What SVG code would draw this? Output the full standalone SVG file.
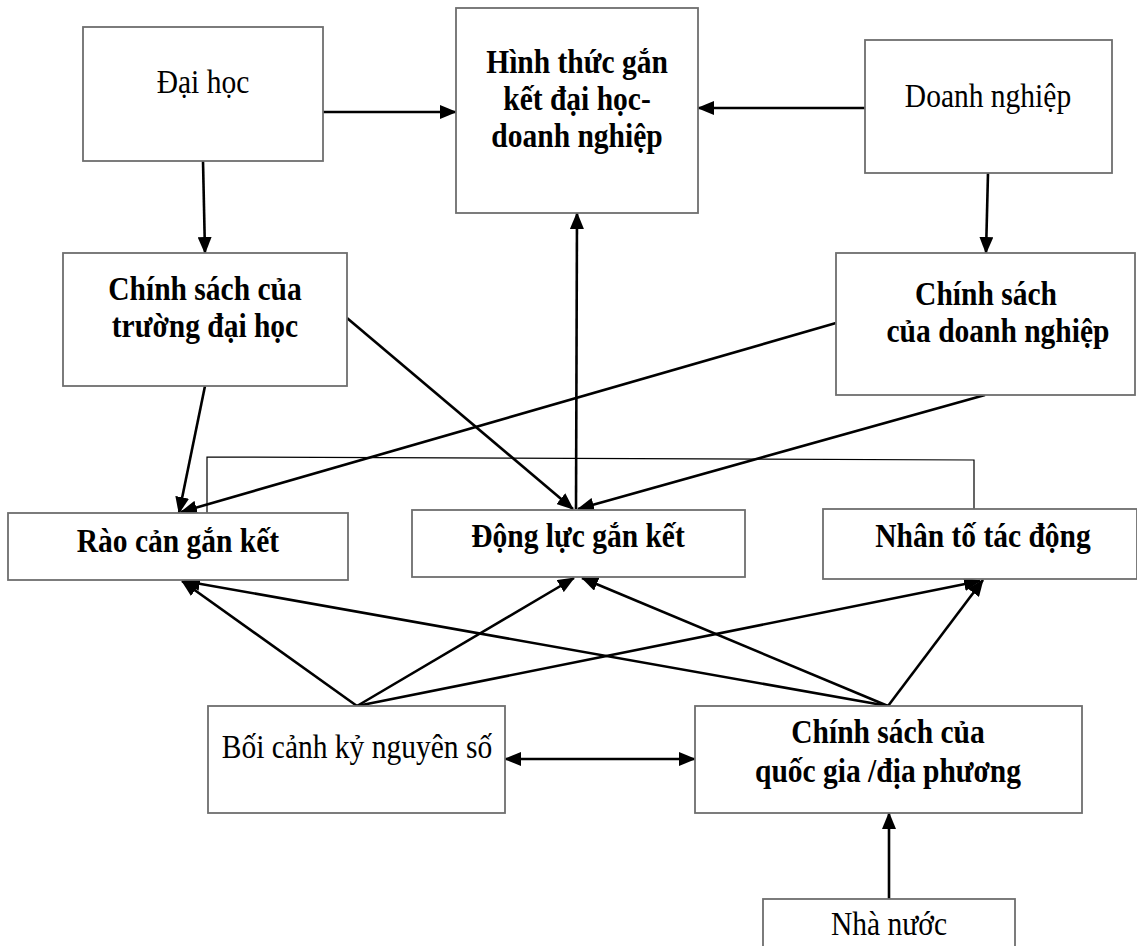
<svg xmlns="http://www.w3.org/2000/svg" width="1137" height="946" viewBox="0 0 1137 946">
<defs>
<style>
.box{fill:#fff;stroke:#6e6e6e;stroke-width:1.8}
.t{font-family:"Liberation Serif","Times New Roman",serif;font-size:29.5px;fill:#000;text-anchor:middle}
.b{font-weight:bold}
.c{stroke:#000;stroke-width:2.6;fill:none}
.thin{stroke:#000;stroke-width:1.2;fill:none}
</style>
<marker id="ah" markerUnits="userSpaceOnUse" markerWidth="18" markerHeight="14" refX="16" refY="7" orient="auto-start-reverse">
<path d="M0,0 L17,7 L0,14 z" fill="#000"/>
</marker>
</defs>
<rect width="1137" height="946" fill="#fff"/>

<g id="connectors">
<line class="c" x1="323" y1="112" x2="456" y2="112" marker-end="url(#ah)"/>
<line class="c" x1="865" y1="108" x2="698" y2="108" marker-end="url(#ah)"/>
<line class="c" x1="203" y1="161" x2="205" y2="253" marker-end="url(#ah)"/>
<line class="c" x1="988" y1="173" x2="986" y2="253" marker-end="url(#ah)"/>
<line class="c" x1="576" y1="509" x2="577" y2="213" marker-end="url(#ah)"/>
<line class="c" x1="205" y1="386" x2="179" y2="513" marker-end="url(#ah)"/>
<line class="c" x1="836" y1="323" x2="181" y2="512" marker-end="url(#ah)"/>
<line class="c" x1="347" y1="318" x2="573" y2="509" marker-end="url(#ah)"/>
<line class="c" x1="985" y1="395" x2="578" y2="509" marker-end="url(#ah)"/>
<polyline class="thin" points="207,513 207,457 974,460 974,509"/>
<line class="c" x1="357" y1="706" x2="182" y2="581" marker-end="url(#ah)"/>
<line class="c" x1="357" y1="706" x2="574" y2="578" marker-end="url(#ah)"/>
<line class="c" x1="357" y1="706" x2="980" y2="581" marker-end="url(#ah)"/>
<line class="c" x1="888" y1="706" x2="184" y2="581" marker-end="url(#ah)"/>
<line class="c" x1="888" y1="706" x2="582" y2="578" marker-end="url(#ah)"/>
<line class="c" x1="888" y1="706" x2="983" y2="580" marker-end="url(#ah)"/>
<line class="c" x1="505" y1="759" x2="695" y2="759" marker-start="url(#ah)" marker-end="url(#ah)"/>
<line class="c" x1="889" y1="899" x2="889" y2="813" marker-end="url(#ah)"/>
</g>

<g id="dai-hoc">
<rect class="box" x="83" y="27" width="240" height="134"/>
<text class="t" transform="translate(203,93) scale(1,1.13)">Đại học</text>
</g>

<g id="hinh-thuc">
<rect class="box" x="456" y="8" width="242" height="205"/>
<text class="t b" transform="translate(577,73) scale(1,1.13)">Hình thức gắn</text>
<text class="t b" transform="translate(577,110) scale(1,1.13)">kết đại học-</text>
<text class="t b" transform="translate(577,147) scale(1,1.13)">doanh nghiệp</text>
</g>

<g id="doanh-nghiep">
<rect class="box" x="865" y="40" width="247" height="133"/>
<text class="t" transform="translate(988,107) scale(1,1.13)">Doanh nghiệp</text>
</g>

<g id="cs-truong">
<rect class="box" x="63" y="253" width="284" height="133"/>
<text class="t b" transform="translate(205,300) scale(1,1.13)">Chính sách của</text>
<text class="t b" transform="translate(205,337) scale(1,1.13)">trường đại học</text>
</g>

<g id="cs-dn">
<rect class="box" x="836" y="253" width="299" height="142"/>
<text class="t b" transform="translate(986,305) scale(1,1.13)">Chính sách</text>
<text class="t b" transform="translate(998,342) scale(1,1.13)">của doanh nghiệp</text>
</g>

<g id="rao-can">
<rect class="box" x="8" y="513" width="340" height="67"/>
<text class="t b" transform="translate(178,552) scale(1,1.13)">Rào cản gắn kết</text>
</g>

<g id="dong-luc">
<rect class="box" x="412" y="510" width="333" height="67"/>
<text class="t b" transform="translate(578,547) scale(1,1.13)">Động lực gắn kết</text>
</g>

<g id="nhan-to">
<rect class="box" x="823" y="509" width="314" height="70"/>
<text class="t b" transform="translate(983,547) scale(1,1.13)">Nhân tố tác động</text>
</g>

<g id="boi-canh">
<rect class="box" x="208" y="706" width="297" height="107"/>
<text class="t" transform="translate(357,758) scale(1,1.13)">Bối cảnh kỷ nguyên số</text>
</g>

<g id="cs-quoc-gia">
<rect class="box" x="695" y="706" width="387" height="107"/>
<text class="t b" transform="translate(888,743) scale(1,1.13)">Chính sách của</text>
<text class="t b" transform="translate(888,782) scale(1,1.13)">quốc gia /địa phương</text>
</g>

<g id="nha-nuoc">
<rect class="box" x="763" y="899" width="252" height="60"/>
<text class="t" transform="translate(889,935) scale(1,1.13)">Nhà nước</text>
</g>
</svg>
